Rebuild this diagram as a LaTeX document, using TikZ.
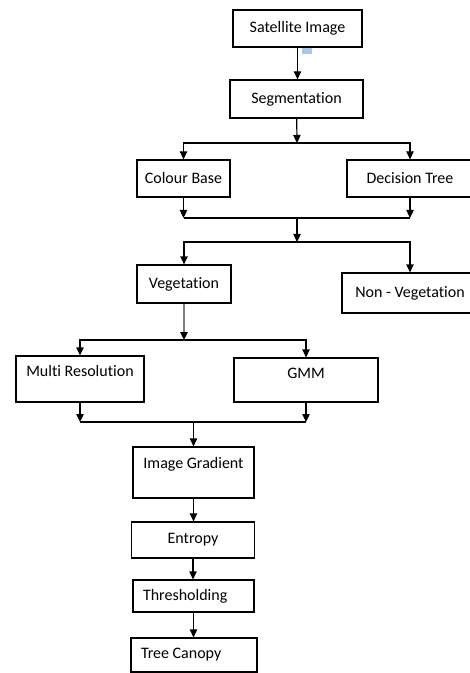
\documentclass[tikz,border=0pt]{standalone}
\usepackage{fontspec}
\setmainfont{Carlito}[Ligatures=NoCommon]
\usetikzlibrary{arrows.meta}

\definecolor{selblue}{HTML}{A9C8EE}

\tikzset{
	box/.style={draw, rectangle, line width=0.9pt, inner sep=0pt, font=\fontsize{12pt}{14pt}\selectfont},
	arr/.style={line width=0.9pt, -{Triangle[width=5.5pt,length=6pt]}},
	ln/.style={line width=0.9pt},
}

\begin{document}
\begin{tikzpicture}[x=0.75pt,y=-0.75pt]

	\clip (0,0) rectangle (470,673);

	% boxes
	\node[box, minimum width=96.75pt, minimum height=27.75pt] (sat) at (297.5,28.5) {Satellite Image};
	\node[box, minimum width=99.75pt, minimum height=28.5pt] (seg) at (296.5,99) {Segmentation};
	\node[box, minimum width=69.75pt, minimum height=27.75pt] (col) at (183.5,178.5) {Colour Base};
	\node[box, minimum width=94.5pt, minimum height=27.75pt] (dec) at (410,178.5) {Decision Tree};
	\node[box, minimum width=70.5pt, minimum height=28.5pt] (veg) at (184,284) {Vegetation};
	\node[box, minimum width=102pt, minimum height=30pt] (nonveg) at (410,293) {Non - Vegetation};
	\node[box, minimum width=96pt, text height=15.5pt, text depth=19pt] (mres) at (80,379) {Multi Resolution};
	\node[box, minimum width=108pt, text height=15.5pt, text depth=17.5pt] (gmm) at (306,380) {GMM};
	\node[box, minimum width=90.75pt, text height=16.25pt, text depth=22pt] (grad) at (193.5,472.5) {Image Gradient};
	\node[box, minimum width=92.25pt, minimum height=27pt] (ent) at (193,540) {Entropy};
	\node[box, text width=75.75pt, inner xsep=7.5pt, align=flush left, minimum height=24pt] (thr) at (193.5,596) {Thresholding};
	\node[box, text width=79.5pt, inner xsep=7.5pt, align=flush left, minimum height=25.5pt] (can) at (194,655) {Tree Canopy};

	% stray selection mark
	\fill[selblue] (302,48) rectangle (312,54);

	% junctions
	\coordinate (s1) at (297,143);
	\coordinate (m1) at (183.5,218);
	\coordinate (m2) at (410,218);
	\coordinate (m0) at (297,218);
	\coordinate (s2) at (297,242);
	\coordinate (s3) at (184,340);
	\coordinate (m3) at (80,422);
	\coordinate (m4) at (306,422);
	\coordinate (m5) at (193.5,422);

	% connectors
	\draw[arr] (sat) -- (sat |- seg.north);
	\draw[arr] (seg) -- (s1);
	\draw[arr] (s1) -| (col);
	\draw[arr] (s1) -| (dec);
	\draw[arr] (col) -- (m1);
	\draw[arr] (dec) -- (m2);
	\draw[ln] (m1) -- (m2);
	\draw[arr] (m0) -- (s2);
	\draw[arr] (s2) -| (veg);
	\draw[arr] (s2) -| (nonveg);
	\draw[arr, draw=gray, line width=1.3pt, -{Triangle[width=5.5pt,length=6pt,color=black]}] (veg) -- (s3);
	\draw[arr] (s3) -| (mres);
	\draw[arr] (s3) -| (gmm);
	\draw[arr] (mres) -- (m3);
	\draw[arr] (gmm) -- (m4);
	\draw[ln] (m3) -- (m4);
	\draw[arr] (m5) -- (grad);
	\draw[arr] (grad) -- (grad |- ent.north);
	\draw[arr] (ent) -- (ent |- thr.north);
	\draw[arr] (thr) -- (thr |- can.north);

\end{tikzpicture}
\end{document}
